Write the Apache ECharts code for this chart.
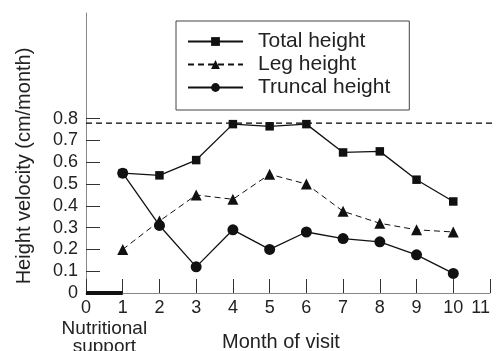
<!DOCTYPE html>
<html>
<head>
<meta charset="utf-8">
<script src="https://cdn.jsdelivr.net/npm/echarts@6/dist/echarts.min.js"></script>
<style>
  html, body { margin: 0; padding: 0; background: #fff; }
  #chart { width: 496px; height: 351px; }
</style>
</head>
<body>
<div id="chart"></div>
<script>
// Monthly height velocity by visit (cm/month)
const months = [1, 2, 3, 4, 5, 6, 7, 8, 9, 10];
const totalHeight = [0.55, 0.54, 0.61, 0.775, 0.765, 0.775, 0.645, 0.65, 0.52, 0.42];
const legHeight = [0.20, 0.33, 0.45, 0.43, 0.545, 0.50, 0.375, 0.32, 0.29, 0.28];
const truncalHeight = [0.55, 0.31, 0.12, 0.29, 0.20, 0.28, 0.25, 0.235, 0.175, 0.09];
const yTickValues = [0, 0.1, 0.2, 0.3, 0.4, 0.5, 0.6, 0.7, 0.8];
const referenceVelocity = 0.78;
const supportPeriod = [0, 1];
const seriesNames = ['Total height', 'Leg height', 'Truncal height'];

const FONT = '"Liberation Sans", Arial, sans-serif';
const INK = '#111';
const yMax = 1.285;

const pairs = (vals) => months.map((m, i) => [m, vals[i]]);

const chart = echarts.init(document.getElementById('chart'), null, { renderer: 'canvas' });

chart.setOption({
  animation: false,
  backgroundColor: '#fff',
  textStyle: { fontFamily: FONT },
  grid: [
    { left: 86, right: 6, top: 13, bottom: 58, containLabel: false, outerBoundsMode: 'none' },
    { left: 86, right: 0, top: 13, bottom: 58, containLabel: false, outerBoundsMode: 'none' }
  ],
  legend: {
    data: seriesNames,
    orient: 'vertical',
    left: 176,
    top: 21,
    padding: [10, 19, 12, 11],
    itemWidth: 55,
    itemHeight: 11,
    itemGap: 2,
    borderColor: '#444',
    borderWidth: 1,
    selectedMode: false,
    textStyle: {
      fontFamily: FONT,
      fontSize: 21,
      lineHeight: 21,
      color: '#222',
      padding: [0, 0, 0, 10]
    }
  },
  xAxis: [
    {
      type: 'value',
      gridIndex: 0,
      min: 0,
      max: 11,
      interval: 1,
      name: 'Month of visit',
      nameLocation: 'middle',
      nameGap: 39,
      nameTextStyle: { fontFamily: FONT, fontSize: 20, color: '#222', padding: [0, 14, 0, 0] },
      axisLine: { show: true, lineStyle: { color: '#888', width: 1 } },
      axisTick: { show: true, inside: true, length: 14, lineStyle: { color: '#333', width: 1 } },
      axisLabel: { fontFamily: FONT, fontSize: 18, color: '#222', margin: 6, alignMaxLabel: 'right' },
      splitLine: { show: false }
    },
    {
      type: 'value',
      gridIndex: 1,
      min: 0,
      max: 1,
      show: false
    }
  ],
  yAxis: [
    {
      type: 'value',
      gridIndex: 0,
      min: 0,
      max: yMax,
      name: 'Height velocity (cm/month)',
      nameLocation: 'middle',
      nameRotate: 90,
      nameGap: 52,
      nameTextStyle: { fontFamily: FONT, fontSize: 20, color: '#222', padding: [0, 26, 0, 0] },
      axisLine: { show: true, lineStyle: { color: '#888', width: 1 } },
      axisTick: { show: true, inside: true, length: 14, customValues: yTickValues, lineStyle: { color: '#333', width: 1 } },
      axisLabel: { fontFamily: FONT, fontSize: 18, color: '#222', margin: 8, customValues: yTickValues },
      splitLine: { show: false }
    },
    {
      type: 'value',
      gridIndex: 1,
      min: 0,
      max: yMax,
      show: false
    }
  ],
  series: [
    {
      name: 'Nutritional support',
      type: 'line',
      xAxisIndex: 0,
      yAxisIndex: 0,
      data: supportPeriod.map((m) => [m, 0]),
      symbol: 'none',
      clip: false,
      silent: true,
      z: 3,
      lineStyle: { color: INK, width: 4, cap: 'butt' },
      markLine: {
        silent: true,
        symbol: 'none',
        data: [[{ coord: [supportPeriod[0], 0] }, { coord: [supportPeriod[1], 0] }]],
        lineStyle: { color: 'rgba(0,0,0,0)', width: 1, type: 'solid' },
        label: {
          show: true,
          position: 'insideMiddleBottom',
          distance: 27,
          formatter: 'Nutritional\nsupport',
          fontFamily: FONT,
          fontSize: 19,
          lineHeight: 18,
          color: '#222'
        }
      }
    },
    {
      name: 'reference',
      type: 'line',
      xAxisIndex: 1,
      yAxisIndex: 1,
      data: [[0, referenceVelocity], [1, referenceVelocity]],
      symbol: 'none',
      silent: true,
      clip: false,
      lineStyle: { color: '#000', width: 1.2, type: [6, 4] }
    },
    {
      name: seriesNames[0],
      type: 'line',
      data: pairs(totalHeight),
      symbol: 'rect',
      symbolSize: 8.5,
      clip: false,
      z: 4,
      itemStyle: { color: INK },
      lineStyle: { color: INK, width: 1.3 }
    },
    {
      name: seriesNames[1],
      type: 'line',
      data: pairs(legHeight),
      symbol: 'triangle',
      symbolSize: 11,
      clip: false,
      z: 5,
      itemStyle: { color: INK },
      lineStyle: { color: INK, width: 1, type: [6, 4] }
    },
    {
      name: seriesNames[2],
      type: 'line',
      data: pairs(truncalHeight),
      symbol: 'circle',
      symbolSize: 11,
      clip: false,
      z: 6,
      itemStyle: { color: INK },
      lineStyle: { color: INK, width: 1.3 }
    }
  ]
});
</script>
</body>
</html>
